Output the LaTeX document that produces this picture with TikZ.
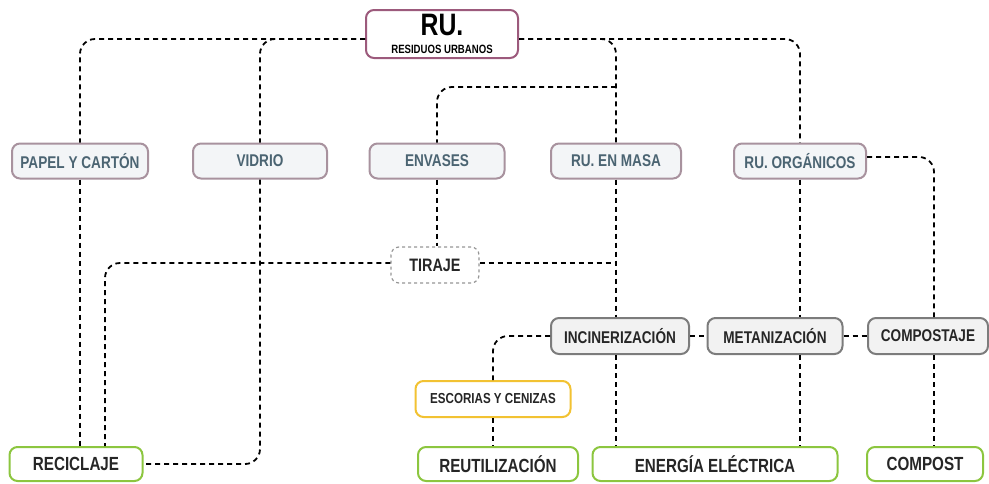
\documentclass[tikz,border=0pt]{standalone}
\usepackage{fontspec}
\setmainfont{Liberation Sans}[FakeStretch=0.8]
\usepackage{tikz}
\usetikzlibrary{positioning, calc}
\definecolor{rumauve}{HTML}{9C5A7C}
\definecolor{typeborder}{HTML}{A8929E}
\definecolor{typefill}{HTML}{F3F5F7}
\definecolor{typetext}{HTML}{4B6472}
\definecolor{procborder}{HTML}{7C7C7C}
\definecolor{procfill}{HTML}{F2F2F2}
\definecolor{ashyellow}{HTML}{F2C232}
\definecolor{outgreen}{HTML}{8CC63F}
\definecolor{darktext}{HTML}{262626}

\begin{document}
\begin{tikzpicture}[x=1pt, y=-1pt,
    box/.style={rounded corners=8pt, line width=2pt, inner sep=0pt, font=\bfseries\fontsize{17}{19}\selectfont},
    rootbox/.style={box, draw=rumauve, fill=white, minimum width=152pt, minimum height=48pt, align=center},
    typebox/.style={box, draw=typeborder, fill=typefill, text=typetext, minimum height=35pt},
    sortbox/.style={box, draw=procborder!80, dashed, line width=1.2pt, fill=white, text=darktext, minimum height=36pt},
    procbox/.style={box, draw=procborder, fill=procfill, text=darktext, minimum height=36pt},
    ashbox/.style={box, draw=ashyellow, fill=white, text=darktext, minimum height=36pt, font=\bfseries\fontsize{14.5}{16}\selectfont},
    outbox/.style={box, draw=outgreen, fill=white, text=darktext, minimum height=34pt, font=\bfseries\fontsize{19}{21}\selectfont},
    link/.style={draw=black, line width=1.8pt, dash pattern=on 5pt off 4pt, rounded corners=15pt}]
  \useasboundingbox (0,0) rectangle (989,483);

  % root
  \node[rootbox] (ru) at (442,34) {{\fontsize{31}{28}\selectfont RU.}\\[-1pt]{\fontsize{12}{12}\selectfont RESIDUOS URBANOS}};

  % types of waste
  \node[typebox, minimum width=136pt] (papel) at (80,161) {PAPEL Y CARTÓN};
  \node[typebox, minimum width=134pt] (vidrio) at (260,161) {VIDRIO};
  \node[typebox, minimum width=135pt] (envases) at (437,161) {ENVASES};
  \node[typebox, minimum width=130pt] (masa) at (616,161) {RU. EN MASA};
  \node[typebox, minimum width=132pt] (organicos) at (800,161) {RU. ORGÁNICOS};

  % sorting
  \node[sortbox, minimum width=88pt, font=\bfseries\fontsize{18}{20}\selectfont] (tiraje) at (435,265) {TIRAJE};

  % treatments
  \node[procbox, minimum width=138pt] (incin) at (620,336) {INCINERIZACIÓN};
  \node[procbox, minimum width=135pt] (metan) at (775,336) {METANIZACIÓN};
  \node[procbox, minimum width=120pt] (compostaje) at (928,336) {COMPOSTAJE};
  \node[ashbox, minimum width=155pt] (escorias) at (493,399) {ESCORIAS Y CENIZAS};

  % outputs
  \node[outbox, minimum width=133pt] (reciclaje) at (76,464) {RECICLAJE};
  \node[outbox, minimum width=160pt] (reutil) at (498,464) {REUTILIZACIÓN};
  \node[outbox, minimum width=245pt] (energia) at (715,464) {ENERGÍA ELÉCTRICA};
  \node[outbox, minimum width=116pt] (compost) at (925,464) {COMPOST};

  \coordinate (split) at (616,87);
  \coordinate (tirajeout) at ([yshift=2pt]tiraje.east);

  % connectors
  \draw[link] ([yshift=-5pt]ru.west) -| (papel.north);
  \draw[link] ([yshift=-5pt]ru.west) -| (vidrio.north);
  \draw[link] ([yshift=-5pt]ru.east) -| (masa.north);
  \draw[link] ([yshift=-5pt]ru.east) -| (organicos.north);
  \draw[link] (split) -| (envases.north);
  \draw[link] (papel.south) -- (papel.south |- reciclaje.north);
  \draw[link] (vidrio.south) |- (reciclaje.east);
  \draw[link] (envases.south) -- (envases.south |- tiraje.north);
  \draw[link] ([yshift=2pt]tiraje.west) -| ([xshift=29pt]reciclaje.north);
  \draw[link] (tirajeout) -- (tirajeout -| masa.south);
  \draw[link] (masa.south) -- (masa.south |- incin.north);
  \draw[link] (incin.west) -| (escorias.north);
  \draw[link] (escorias.south) -- (escorias.south |- reutil.north);
  \draw[link] (incin.east) -- (metan.west);
  \draw[link] (metan.east) -- (compostaje.west);
  \draw[link] (masa.south |- incin.south) -- (masa.south |- energia.north);
  \draw[link] (organicos.south) -- (organicos.south |- metan.north);
  \draw[link] (organicos.south |- metan.south) -- (organicos.south |- energia.north);
  \draw[link] ([yshift=4pt]organicos.east) -| ([xshift=6pt]compostaje.north);
  \draw[link] ([xshift=6pt]compostaje.south) -- ([xshift=6pt]compostaje.south |- compost.north);
\end{tikzpicture}
\end{document}
